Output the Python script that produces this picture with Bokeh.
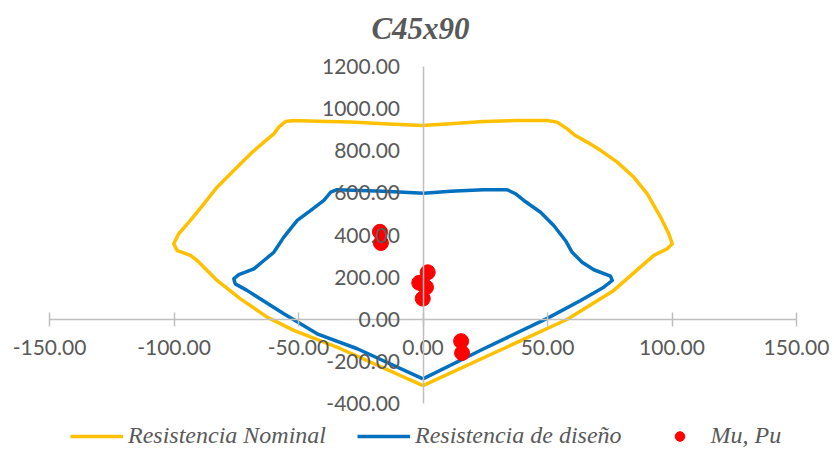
from bokeh.plotting import figure
from bokeh.models import Range1d, LinearAxis, FixedTicker, PrintfTickFormatter, Label, Legend, LegendItem
from bokeh.embed import file_html
from bokeh.resources import INLINE

# ---- data (M in t-m, P in t) ----
nominal_m = [0, 31.1, 58, 76.6, 92.7, 98.1, 100.1, 98.7, 95.4, 90, 84.7, 78, 71.3, 65.9, 61.2, 57.9, 53.9,
             49.9, 37.8, 24.4, 11, -0.3, -15.7, -29.1, -42.5, -51.9, -55.2, -57.9, -59.9, -63.9, -69.3,
             -76, -82.7, -88, -93.4, -98.1, -100.1, -98.7, -93.4, -90.7, -82.7, -73.3, -62.6, -51.9,
             -33.1, 0]
nominal_p = [-315, -146, 0, 137, 303, 335, 358, 406, 485, 596, 674, 746, 802, 841, 872, 904, 936,
             944, 944, 939, 928, 920, 928, 936, 940, 944, 939, 912, 880, 841, 785,
             706, 627, 548, 469, 406, 358, 326, 303, 279, 184, 97, 10, -53,
             -140, -315]

design_m = [0, 24.4, 49.9, 63.3, 72.6, 76, 75.3, 68.6, 63.9, 59.9, 57.2, 52.5, 47.2, 40.5, 37.1, 33.8,
            24.4, 11, 0.3, -15.7, -34.5, -37.1, -39.8, -45.2, -50.5, -55.9, -59.9, -63.9, -67.9, -74,
            -76, -75.4, -70.7, -55.9, -42.5, -26.4, 0]
design_p = [-283, -140, 4, 89, 152, 184, 205, 235, 271, 318, 374, 445, 508, 564, 596, 615,
            615, 608, 598, 608, 615, 603, 564, 516, 469, 390, 318, 279, 239, 212,
            192, 168, 137, 26, -69, -140, -283]

mu = [-17.3, -16.9, 1.9, -1.5, 1.2, -0.1, 15.3, 15.7]
pu = [415, 362, 223, 173, 152, 98, -104, -160]

x_ticks = [-150, -100, -50, 0, 50, 100, 150]
y_ticks = [-400, -200, 0, 200, 400, 600, 800, 1000, 1200]

title_text = "C45x90"
labels = ["Resistencia Nominal", "Resistencia de diseño", "Mu, Pu"]

# ---- layout: frame covers the whole canvas; axes cross at 0 ----
W, H = 834, 449
x_px0, x_scale = 422.5, 747 / 300.0      # canvas px of M=0, px per unit
y_px0, y_scale = 318.75, 337 / 1600.0    # canvas px of P=0, px per unit
x_range = Range1d(-x_px0 / x_scale, (W - x_px0) / x_scale)
y_range = Range1d(-(H - y_px0) / y_scale, y_px0 / y_scale)

p = figure(width=W, height=H, x_range=x_range, y_range=y_range,
           x_axis_type=None, y_axis_type=None, output_backend="svg",
           toolbar_location=None, min_border=0, title=None)
p.outline_line_color = None
p.grid.visible = False
p.background_fill_color = "white"

grey = "#595959"
axis_col = "#BFBFBF"
tick_font = "Lato"

xaxis = LinearAxis(fixed_location=0, bounds=(x_ticks[0], x_ticks[-1]),
                   ticker=FixedTicker(ticks=x_ticks, minor_ticks=[]),
                   formatter=PrintfTickFormatter(format="%.2f"))
xaxis.axis_line_color = axis_col
xaxis.axis_line_width = 1.5
xaxis.major_tick_line_color = axis_col
xaxis.major_tick_line_width = 1.5
xaxis.major_tick_in = 7
xaxis.major_tick_out = 7
xaxis.minor_tick_line_color = None
xaxis.major_label_text_font = tick_font
xaxis.major_label_text_font_size = "21px"
xaxis.major_label_text_color = grey
xaxis.major_label_standoff = 14
p.add_layout(xaxis, "below")

yaxis = LinearAxis(fixed_location=0, bounds=(y_ticks[0], y_ticks[-1]),
                   ticker=FixedTicker(ticks=y_ticks, minor_ticks=[]),
                   formatter=PrintfTickFormatter(format="%.2f"))
yaxis.axis_line_color = axis_col
yaxis.axis_line_width = 1.5
yaxis.major_tick_line_color = None
yaxis.major_tick_in = 0
yaxis.major_tick_out = 0
yaxis.minor_tick_line_color = None
yaxis.major_label_text_font = tick_font
yaxis.major_label_text_font_size = "21px"
yaxis.major_label_text_color = grey
yaxis.major_label_standoff = 23
p.add_layout(yaxis, "left")

r1 = p.line(nominal_m, nominal_p, line_color="#FFC000", line_width=3.5, line_join="round")
r2 = p.line(design_m, design_p, line_color="#0070C0", line_width=3.5, line_join="round")
r3 = p.scatter(mu, pu, marker="circle", size=15, fill_color="#FF0000", line_color="#FF0000")

title = Label(x=-1.0, y=(y_px0 - 28) / y_scale, text=title_text, text_align="center",
              text_baseline="alphabetic", text_font="Liberation Serif", text_font_style="bold italic",
              text_font_size="31px", text_color=grey)
p.add_layout(title)

legend = Legend(items=[LegendItem(label=labels[0], renderers=[r1]),
                       LegendItem(label=labels[1], renderers=[r2]),
                       LegendItem(label=labels[2], renderers=[r3])],
                orientation="horizontal", location=(70, 0))
legend.padding = 0
legend.margin = 0
legend.spacing = 31
legend.glyph_width = 53
legend.glyph_height = 24
legend.label_height = 24
legend.label_standoff = 5
legend.border_line_color = None
legend.background_fill_alpha = 0
legend.label_text_font = "Liberation Serif"
legend.label_text_font_style = "italic"
legend.label_text_font_size = "24px"
legend.label_text_color = grey
p.add_layout(legend, "center")

open("out.html", "w").write(file_html(p, INLINE))
